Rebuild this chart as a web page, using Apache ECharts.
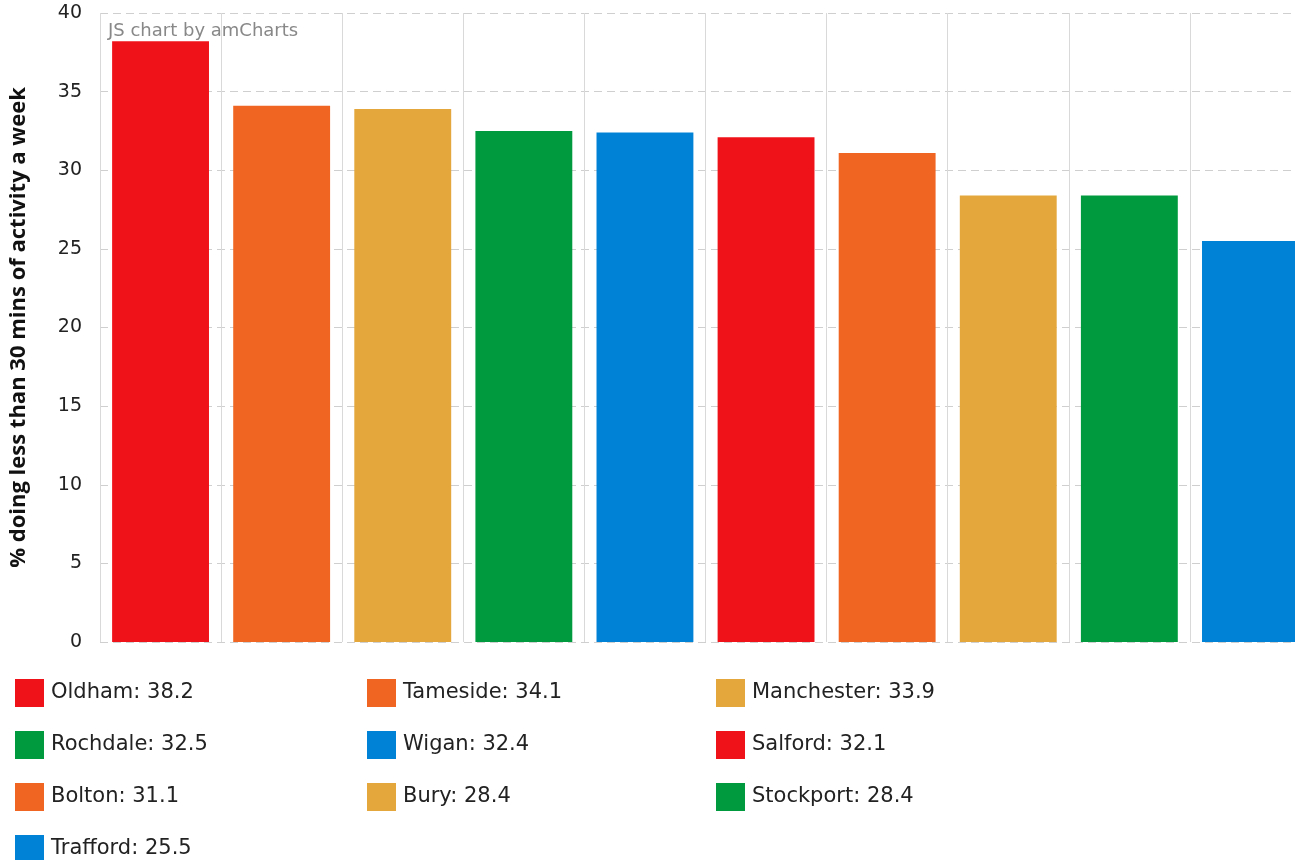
<!DOCTYPE html>
<html>
<head>
<meta charset="utf-8">
<script src="https://cdn.jsdelivr.net/npm/echarts@6/dist/echarts.min.js"></script>
<style>
html,body{margin:0;padding:0;background:#fff;}
#chart{width:1295px;height:860px;}
</style>
</head>
<body>
<div id="chart"></div>
<script>
const categories = ['Oldham','Tameside','Manchester','Rochdale','Wigan','Salford','Bolton','Bury','Stockport','Trafford'];
const values = [38.2, 34.1, 33.9, 32.5, 32.4, 32.1, 31.1, 28.4, 28.4, 25.5];
const colors = ['#f01219','#f06522','#e4a73b','#009a3e','#0083d6','#f01219','#f06522','#e4a73b','#009a3e','#0083d6'];
const yTicks = [0, 5, 10, 15, 20, 25, 30, 35, 40];
const yAxisTitle = '% doing less than 30 mins of activity a week';
const watermark = 'JS chart by amCharts';

const chart = echarts.init(document.getElementById('chart'), null, {renderer: 'canvas'});

const series = categories.map((name, i) => ({
  name: name,
  type: 'bar',
  stack: 'all',
  barWidth: '80%',
  itemStyle: { color: colors[i] },
  data: categories.map((c, j) => (j === i ? values[i] : '-')),
  animation: false
}));

const valueByName = {};
categories.forEach((c, i) => { valueByName[c] = values[i]; });

const legendCols = [0, 1, 2].map(k => categories.filter((c, i) => i % 3 === k));
const legendLefts = [15, 367, 716];
const legends = legendCols.map((names, k) => ({
  show: true,
  left: legendLefts[k],
  top: 679,
  height: 200,
  padding: 0,
  orient: 'vertical',
  icon: 'rect',
  itemWidth: 29,
  itemHeight: 28,
  itemGap: 24,
  itemStyle: { borderWidth: 0 },
  selectedMode: false,
  data: names,
  formatter: function (name) { return name + ': ' + valueByName[name]; },
  textStyle: { fontSize: 21, color: '#222', fontFamily: 'DejaVu Sans', padding: [0, 0, 0, 2] }
}));

chart.setOption({
  backgroundColor: '#fff',
  animation: false,
  textStyle: { fontFamily: 'DejaVu Sans' },
  grid: { left: 100, right: -16, top: 13, bottom: 218, containLabel: false, outerBoundsMode: 'none' },
  xAxis: {
    type: 'category',
    data: categories,
    boundaryGap: true,
    axisLine: { show: false },
    axisTick: { show: false },
    axisLabel: { show: false },
    splitLine: { show: true, lineStyle: { color: '#d9d9d9', width: 1, type: 'solid' } }
  },
  yAxis: {
    type: 'value',
    min: yTicks[0],
    max: yTicks[yTicks.length - 1],
    interval: 5,
    axisLine: { show: false },
    axisTick: { show: false },
    axisLabel: { color: '#222', fontSize: 19, margin: 18, fontFamily: 'DejaVu Sans' },
    splitLine: { show: true, lineStyle: { color: '#cfcfcf', width: 1, type: [8, 5] } },
    name: yAxisTitle,
    nameLocation: 'middle',
    nameGap: 70,
    nameRotate: 90,
    nameTextStyle: { fontFamily: "'Open Sans'", fontWeight: 'bold', fontSize: 22, color: '#111' }
  },
  legend: legends,
  graphic: [{
    type: 'text',
    left: 108,
    top: 22,
    style: { text: watermark, fontSize: 18, fill: '#888', fontFamily: 'DejaVu Sans' },
    z: 100
  }],
  series: series
});
</script>
</body>
</html>
